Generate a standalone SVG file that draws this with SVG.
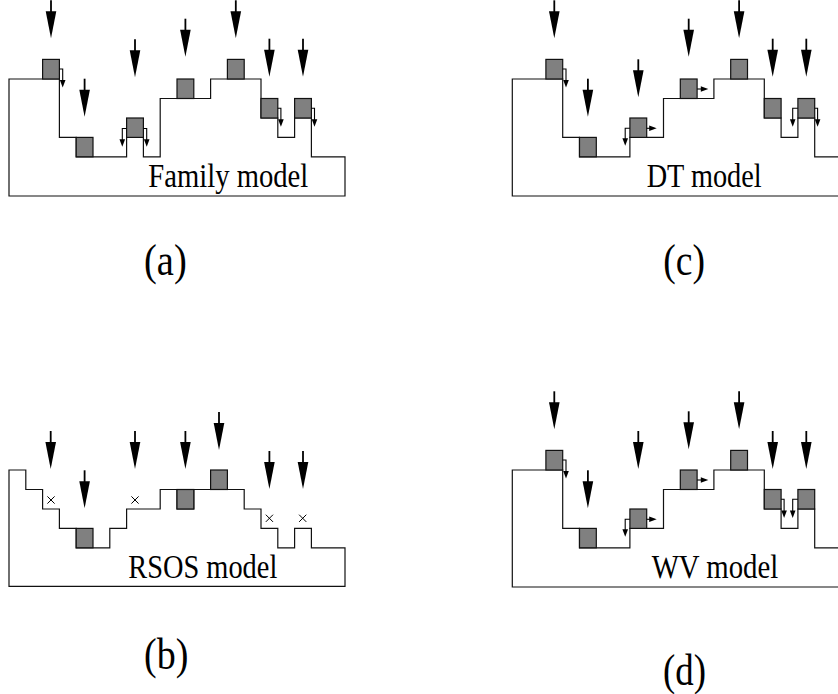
<svg xmlns="http://www.w3.org/2000/svg" width="838" height="694" viewBox="0 0 838 694">
<style>
.s{fill:none;stroke:#111;stroke-width:1.2}
.p{fill:#808080;stroke:#111;stroke-width:1.2}
.a{fill:none;stroke:#000;stroke-width:1.1}
.x{fill:none;stroke:#000;stroke-width:1}
.t{font-family:"Liberation Serif","Times New Roman",serif;font-size:33px;fill:#000}
.l{font-family:"Liberation Serif","Times New Roman",serif;font-size:45px;fill:#000}
</style>
<defs>
<g id="big"><line x1="0" y1="-38" x2="0" y2="-24" stroke="#000" stroke-width="1.8"/><polygon points="-5.3,-27 5.3,-27 0,0" fill="#000"/></g>
<polygon id="hd" points="-2.8,-7.5 2.8,-7.5 0,0" fill="#000"/>
<polygon id="hr" points="-7.5,-2.8 -7.5,2.8 0,0" fill="#000"/>
</defs>

<g id="panel-a">
<path class="s" d="M9,196 V79 H59.4 V137.4 H76.2 V156.8 H126.6 V137.4 H143.4 V156.8 H160.2 V98.5 H210.6 V79 H261 V118 H277.8 V137.4 H294.6 V118 H311.4 V156.8 H345 V196 Z"/>
<rect class="p" x="42.6" y="59.4" width="16.8" height="19.6"/>
<rect class="p" x="76.2" y="137.4" width="16.8" height="19.4"/>
<rect class="p" x="126.6" y="118" width="16.8" height="19.4"/>
<rect class="p" x="177" y="79" width="16.8" height="19.5"/>
<rect class="p" x="227.4" y="59.4" width="16.8" height="19.6"/>
<rect class="p" x="261" y="98.5" width="16.8" height="19.5"/>
<rect class="p" x="294.6" y="98.5" width="16.8" height="19.5"/>
<g id="a-moves">
<path class="a" d="M59.4,69 H62.7 V81"/><use href="#hd" x="62.7" y="87.5"/>
<path class="a" d="M126.6,128.5 H122.3 V140"/><use href="#hd" x="122.3" y="146.7"/>
<path class="a" d="M143.4,128.5 H146.7 V140"/><use href="#hd" x="146.7" y="146.7"/>
<path class="a" d="M277.8,108.3 H280.9 V120"/><use href="#hd" x="280.9" y="126.7"/>
<path class="a" d="M311.4,108.3 H314.5 V120"/><use href="#hd" x="314.5" y="126.7"/>
</g>
<g id="a-drops">
<use href="#big" x="51" y="38.3"/>
<use href="#big" x="84.6" y="116.7"/>
<use href="#big" x="135" y="77.3"/>
<use href="#big" x="185.4" y="56.7"/>
<use href="#big" x="235.8" y="38.3"/>
<use href="#big" x="269.4" y="76.7"/>
<use href="#big" x="303" y="76.7"/>
</g>
<text class="t" x="148.3" y="186.7" textLength="160" lengthAdjust="spacingAndGlyphs">Family model</text>
</g>

<g id="panel-c" transform="translate(503.3,0)">
<path class="s" d="M9,196 V79 H59.4 V137.4 H76.2 V156.8 H126.6 V137.4 H160.2 V98.5 H210.6 V79 H261 V118 H277.8 V137.4 H294.6 V118 H311.4 V156.8 H345 V196 Z"/>
<rect class="p" x="42.6" y="59.4" width="16.8" height="19.6"/>
<rect class="p" x="76.2" y="137.4" width="16.8" height="19.4"/>
<rect class="p" x="126.6" y="118" width="16.8" height="19.4"/>
<rect class="p" x="177" y="79" width="16.8" height="19.5"/>
<rect class="p" x="227.4" y="59.4" width="16.8" height="19.6"/>
<rect class="p" x="261" y="98.5" width="16.8" height="19.5"/>
<rect class="p" x="294.6" y="98.5" width="16.8" height="19.5"/>
<g id="c-moves">
<path class="a" d="M59.4,69 H62.7 V81"/><use href="#hd" x="62.7" y="87.5"/>
<path class="a" d="M126.6,128.3 H121.9 V139"/><use href="#hd" x="121.9" y="145.7"/>
<path class="a" d="M143.4,128.3 H147"/><use href="#hr" x="153.4" y="128.3"/>
<path class="a" d="M193.8,89 H199"/><use href="#hr" x="205" y="89"/>
<path class="a" d="M294.6,108.3 H289.4 V120"/><use href="#hd" x="289.4" y="126.7"/>
<path class="a" d="M311.4,108.3 H314.3 V120"/><use href="#hd" x="314.3" y="126.7"/>
</g>
<g id="c-drops">
<use href="#big" x="51" y="38.3"/>
<use href="#big" x="84.6" y="116.7"/>
<use href="#big" x="135" y="97.3"/>
<use href="#big" x="185.4" y="56.7"/>
<use href="#big" x="235.8" y="38.3"/>
<use href="#big" x="269.4" y="76.7"/>
<use href="#big" x="303" y="76.7"/>
</g>
<text class="t" x="143.4" y="186.7" textLength="115" lengthAdjust="spacingAndGlyphs">DT model</text>
</g>

<g id="panel-b" transform="translate(0,391)">
<path class="s" d="M9,195.3 V79 H25.8 V98.5 H42.6 V118 H59.4 V137.4 H76.2 V156.8 H109.8 V137.4 H126.6 V118 H160.2 V98.5 H177 V118 H193.8 V98.5 H244.2 V118 H261 V137.4 H277.8 V156.8 H294.6 V137.4 H311.4 V156.8 H345 V195.3 Z"/>
<rect class="p" x="76.2" y="137.4" width="16.8" height="19.4"/>
<rect class="p" x="177" y="98.5" width="16.8" height="19.5"/>
<rect class="p" x="210.6" y="79" width="16.8" height="19.5"/>
<g id="b-marks">
<path class="x" d="M47.4,105.4 L54.6,112.6 M54.6,105.4 L47.4,112.6"/>
<path class="x" d="M131.4,105.4 L138.6,112.6 M138.6,105.4 L131.4,112.6"/>
<path class="x" d="M265.8,123.7 L273,130.9 M273,123.7 L265.8,130.9"/>
<path class="x" d="M299.1,123.7 L306.3,130.9 M306.3,123.7 L299.1,130.9"/>
</g>
<g id="b-drops">
<use href="#big" x="50.7" y="78"/>
<use href="#big" x="84.6" y="117.3"/>
<use href="#big" x="135" y="78"/>
<use href="#big" x="185.4" y="78"/>
<use href="#big" x="219" y="59"/>
<use href="#big" x="269.4" y="98"/>
<use href="#big" x="303" y="98"/>
</g>
<text class="t" x="128.3" y="186.7" textLength="149" lengthAdjust="spacingAndGlyphs">RSOS model</text>
</g>

<g id="panel-d" transform="translate(503.3,391)">
<path class="s" d="M9,196 V79 H59.4 V137.4 H76.2 V156.8 H126.6 V137.4 H160.2 V98.5 H210.6 V79 H261 V118 H277.8 V137.4 H294.6 V118 H311.4 V156.8 H345 V196 Z"/>
<rect class="p" x="42.6" y="59.4" width="16.8" height="19.6"/>
<rect class="p" x="76.2" y="137.4" width="16.8" height="19.4"/>
<rect class="p" x="126.6" y="118" width="16.8" height="19.4"/>
<rect class="p" x="177" y="79" width="16.8" height="19.5"/>
<rect class="p" x="227.4" y="59.4" width="16.8" height="19.6"/>
<rect class="p" x="261" y="98.5" width="16.8" height="19.5"/>
<rect class="p" x="294.6" y="98.5" width="16.8" height="19.5"/>
<g id="d-moves">
<path class="a" d="M59.4,69 H62.7 V81"/><use href="#hd" x="62.7" y="87.5"/>
<path class="a" d="M126.6,128.3 H121.9 V139"/><use href="#hd" x="121.9" y="145.7"/>
<path class="a" d="M143.4,128.3 H147"/><use href="#hr" x="153.4" y="128.3"/>
<path class="a" d="M193.8,89 H199"/><use href="#hr" x="205" y="89"/>
<path class="a" d="M277.8,108.3 H280.8 V120"/><use href="#hd" x="280.8" y="127"/>
<path class="a" d="M294.6,108.3 H289.4 V120"/><use href="#hd" x="289.4" y="127"/>
</g>
<g id="d-drops">
<use href="#big" x="51" y="38.3"/>
<use href="#big" x="84.6" y="117.3"/>
<use href="#big" x="135" y="78"/>
<use href="#big" x="185.4" y="58.3"/>
<use href="#big" x="235.8" y="38.3"/>
<use href="#big" x="269.4" y="78"/>
<use href="#big" x="303" y="78"/>
</g>
<text class="t" x="148.4" y="186.7" textLength="126.6" lengthAdjust="spacingAndGlyphs">WV model</text>
</g>

<g id="labels">
<text class="l" x="144" y="275" textLength="42.7" lengthAdjust="spacingAndGlyphs">(a)</text>
<text class="l" x="663.3" y="275" textLength="41.7" lengthAdjust="spacingAndGlyphs">(c)</text>
<text class="l" x="144" y="668.5" textLength="44.3" lengthAdjust="spacingAndGlyphs">(b)</text>
<text class="l" x="663" y="685" textLength="43" lengthAdjust="spacingAndGlyphs">(d)</text>
</g>
</svg>
